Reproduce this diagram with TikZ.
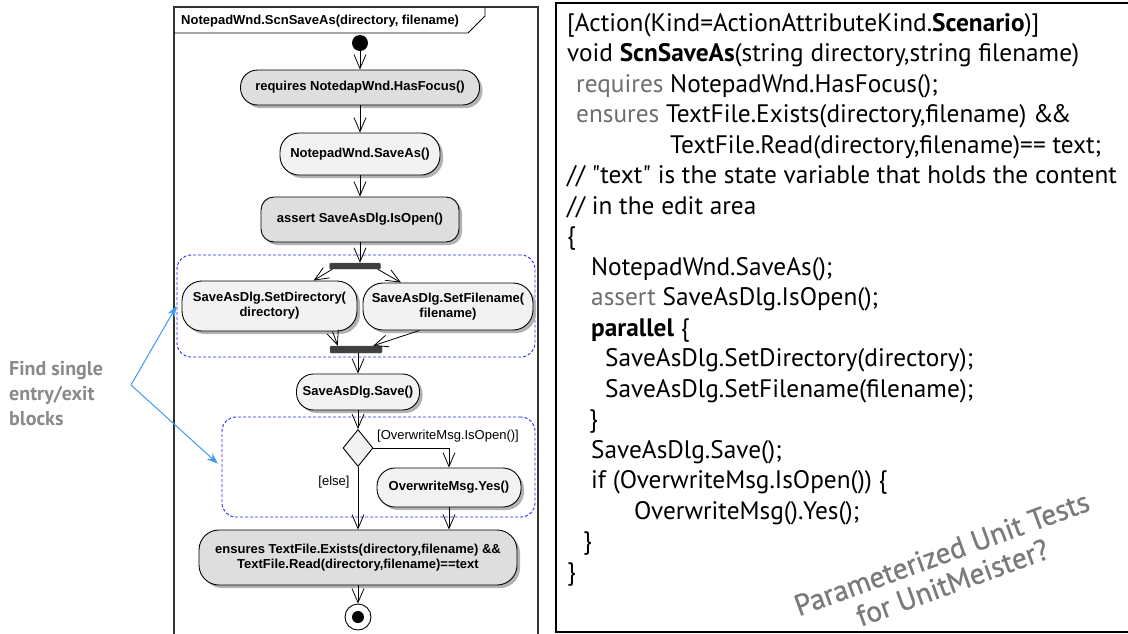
\documentclass[tikz,border=0pt]{standalone}
\usepackage{fontspec}
\setmainfont{PT Sans}
\newfontfamily\codefont{PT Sans}
\newfontfamily\stampfont{PT Sans}[FakeBold=0.8]
\newfontfamily\umlfont{Liberation Sans}
\usetikzlibrary{arrows.meta,shapes.geometric,shadows,calc}

\definecolor{actdark}{HTML}{DEDEDE}
\definecolor{actlight}{HTML}{F2F2F2}
\definecolor{kwgrey}{HTML}{6E6E6E}
\definecolor{blockblue}{HTML}{2828FF}
\definecolor{hintblue}{HTML}{3C9CF5}
\definecolor{notegrey}{HTML}{8A8A8A}
\definecolor{stampgrey}{HTML}{7A7A7A}
\definecolor{barcol}{HTML}{3F3F3F}

\newcommand{\kw}[1]{\textcolor{kwgrey}{#1}}

\begin{document}
\begin{tikzpicture}[x=1pt,y=-1pt,
  umltext/.style={font=\umlfont\bfseries\fontsize{13}{15}\selectfont},
  guardtext/.style={font=\umlfont\fontsize{13}{15}\selectfont},
  act/.style={umltext, draw=black, line width=0.9pt, rounded corners=15pt,
    inner sep=2pt, align=center,
    drop shadow={shadow xshift=3pt, shadow yshift=-3pt, fill=black!30, opacity=1}},
  bar/.style={fill=barcol, draw=black!60, inner sep=0pt, rounded corners=1pt},
  block/.style={draw=blockblue, line width=0.9pt, dash pattern=on 3pt off 2pt,
    rounded corners=14pt, inner sep=0pt},
  flow/.style={-{Straight Barb[length=14pt,width=12pt]}, line width=0.8pt},
  hint/.style={-{Stealth[length=11pt,width=8pt]}, draw=hintblue, line width=1pt},
  codeline/.style={anchor=base west, inner sep=0pt, font=\codefont\fontsize{25.3}{29}\selectfont},
]
\useasboundingbox (0,0) rectangle (1128,633);
\fill[white] (0,0) rectangle (1128,633);

% ---- activity diagram frame ----
\draw[line width=1.2pt, black!80] (174,640) -- (174,7) -- (538,7) -- (538,640);
\draw[line width=0.9pt] (174,33) -- (468,33) -- (485,16) -- (485,7);
\node[umltext, anchor=west, inner sep=0pt] (title) at (181,21)
  {NotepadWnd.ScnSaveAs(directory, filename)};

% ---- single entry/exit blocks ----
\node[block, minimum width=358pt, minimum height=102pt] (blk1) at (356,306) {};
\node[block, minimum width=313pt, minimum height=100pt] (blk2) at (378.5,467) {};

% ---- actions ----
\node[circle, fill=black, minimum size=16pt, inner sep=0pt] (start) at (360,43) {};
\node[act, fill=actdark, minimum width=239pt, minimum height=35pt, rounded corners=17pt]
  (req) at (360,87.5) {requires NotedapWnd.HasFocus()};
\node[act, fill=actlight, minimum width=160pt, minimum height=42pt, rounded corners=19pt]
  (sa) at (360,154) {NotepadWnd.SaveAs()};
\node[act, fill=actdark, minimum width=198pt, minimum height=45pt, rounded corners=13pt]
  (as) at (360,219.5) {assert SaveAsDlg.IsOpen()};
\node[bar, minimum width=51pt, minimum height=6pt] (fork) at (355,266) {};
\node[act, fill=actlight, minimum width=175pt, minimum height=50pt, rounded corners=20pt]
  (dir) at (269.5,306) {SaveAsDlg.SetDirectory(\\directory)};
\node[act, fill=actlight, minimum width=170pt, minimum height=47pt, rounded corners=20pt]
  (fn) at (448,306.5) {SaveAsDlg.SetFilename(\\filename)};
\node[bar, minimum width=52pt, minimum height=7pt] (join) at (356,349.5) {};
\node[act, fill=actlight, minimum width=123pt, minimum height=36pt, rounded corners=17pt]
  (save) at (358,392) {SaveAsDlg.Save()};
\node[diamond, draw=black, line width=0.9pt, fill=actlight, aspect=0.8, inner sep=0pt,
  minimum width=30pt, minimum height=37pt] (dec) at (358,448) {};
\node[act, fill=actlight, minimum width=144pt, minimum height=39pt, rounded corners=18pt]
  (yes) at (449,487.5) {OverwriteMsg.Yes()};
\node[act, fill=actdark, minimum width=318pt, minimum height=55pt, rounded corners=20pt]
  (ens) at (358,557.5) {ensures TextFile.Exists(directory,filename) \&\&\\TextFile.Read(directory,filename)==text};
\node[circle, draw=black, line width=0.9pt, fill=white, minimum size=26pt, inner sep=0pt]
  (fin) at (358,617) {};
\node[circle, fill=black, minimum size=12pt, inner sep=0pt] (findot) at (fin.center) {};

% ---- guards ----
\node[guardtext, inner sep=0pt] (gopen) at (448,436) {[OverwriteMsg.IsOpen()]};
\node[guardtext, inner sep=0pt] (gelse) at (334,482) {[else]};

% ---- control flow ----
\draw[flow] (start) -- (req);
\draw[flow] (req) -- (sa);
\draw[flow] (sa) -- (as);
\draw[flow] (as.south) -- (as.south |- fork.north);
\draw[flow] ([xshift=3pt]fork.south west) -- (dir.30);
\draw[flow] ([xshift=-3pt]fork.south east) -- (fn.153);
\draw[flow] (dir.-22) -- ([xshift=8pt]join.north west);
\draw[flow] (fn.-140) -- ([xshift=-9pt]join.north east);
\draw[flow] (save.north |- join.south) -- (save.north);
\draw[flow] (save) -- (dec);
\draw[flow] (dec.east) -| (yes.north);
\draw[flow] (dec.south) -- (dec.south |- ens.north);
\draw[flow] (yes.south) -- (yes.south |- ens.north);
\draw[flow] (ens) -- (fin);

% ---- side remark ----
\node[anchor=west, align=left, inner sep=0pt, text=notegrey,
  font=\bfseries\fontsize{20}{25}\selectfont] (remark) at (9,394)
  {Find single\\entry/exit\\blocks};
\coordinate (hintsrc) at (131,385);
\draw[hint] (hintsrc) -- (blk1.west);
\draw[hint, shorten >=5pt] (hintsrc) -- (blk2.west);

% ---- code listing ----
\draw[line width=1.5pt] (1140,3) -- (556,3) -- (556,632) -- (1140,632);
\node[codeline] (c1) at (567,31) {[Action(Kind=ActionAttributeKind.\textbf{Scenario})]};
\node[codeline] (c2) at (567,61.5) {void \textbf{ScnSaveAs}(string directory,string filename)};
\node[codeline] (c3) at (576,92) {\kw{requires} NotepadWnd.HasFocus();};
\node[codeline] (c4) at (576,122.5) {\kw{ensures} TextFile.Exists(directory,filename) \&\kern-3pt\&};
\node[codeline] (c5) at (670,153) {TextFile.Read(directory,filename)== text;};
\node[codeline] (c6) at (567,183.5) {// "text" is the state variable that holds the content};
\node[codeline] (c7) at (567,214) {// in the edit area};
\node[codeline] (c8) at (567,244.5) {\{};
\node[codeline] (c9) at (591,275) {NotepadWnd.SaveAs();};
\node[codeline] (c10) at (591,305.5) {\kw{assert} SaveAsDlg.IsOpen();};
\node[codeline] (c11) at (591,336) {\textbf{parallel} \{};
\node[codeline] (c12) at (605,366.5) {SaveAsDlg.SetDirectory(directory);};
\node[codeline] (c13) at (605,397) {SaveAsDlg.SetFilename(filename);};
\node[codeline] (c14) at (589,427.5) {\}};
\node[codeline] (c15) at (591,458) {SaveAsDlg.Save();};
\node[codeline] (c16) at (591,488.5) {if (OverwriteMsg.IsOpen()) \{};
\node[codeline] (c17) at (634,519) {OverwriteMsg().Yes();};
\node[codeline] (c18) at (583,549.5) {\}};
\node[codeline] (c19) at (567,580) {\}};

% ---- stamp ----
\node[rotate=20, text=stampgrey, align=center, inner sep=0pt,
  font=\stampfont\fontsize{29.5}{31}\selectfont] (stamp) at (947,568)
  {Parameterized Unit Tests\\for UnitMeister?};
\end{tikzpicture}
\end{document}
